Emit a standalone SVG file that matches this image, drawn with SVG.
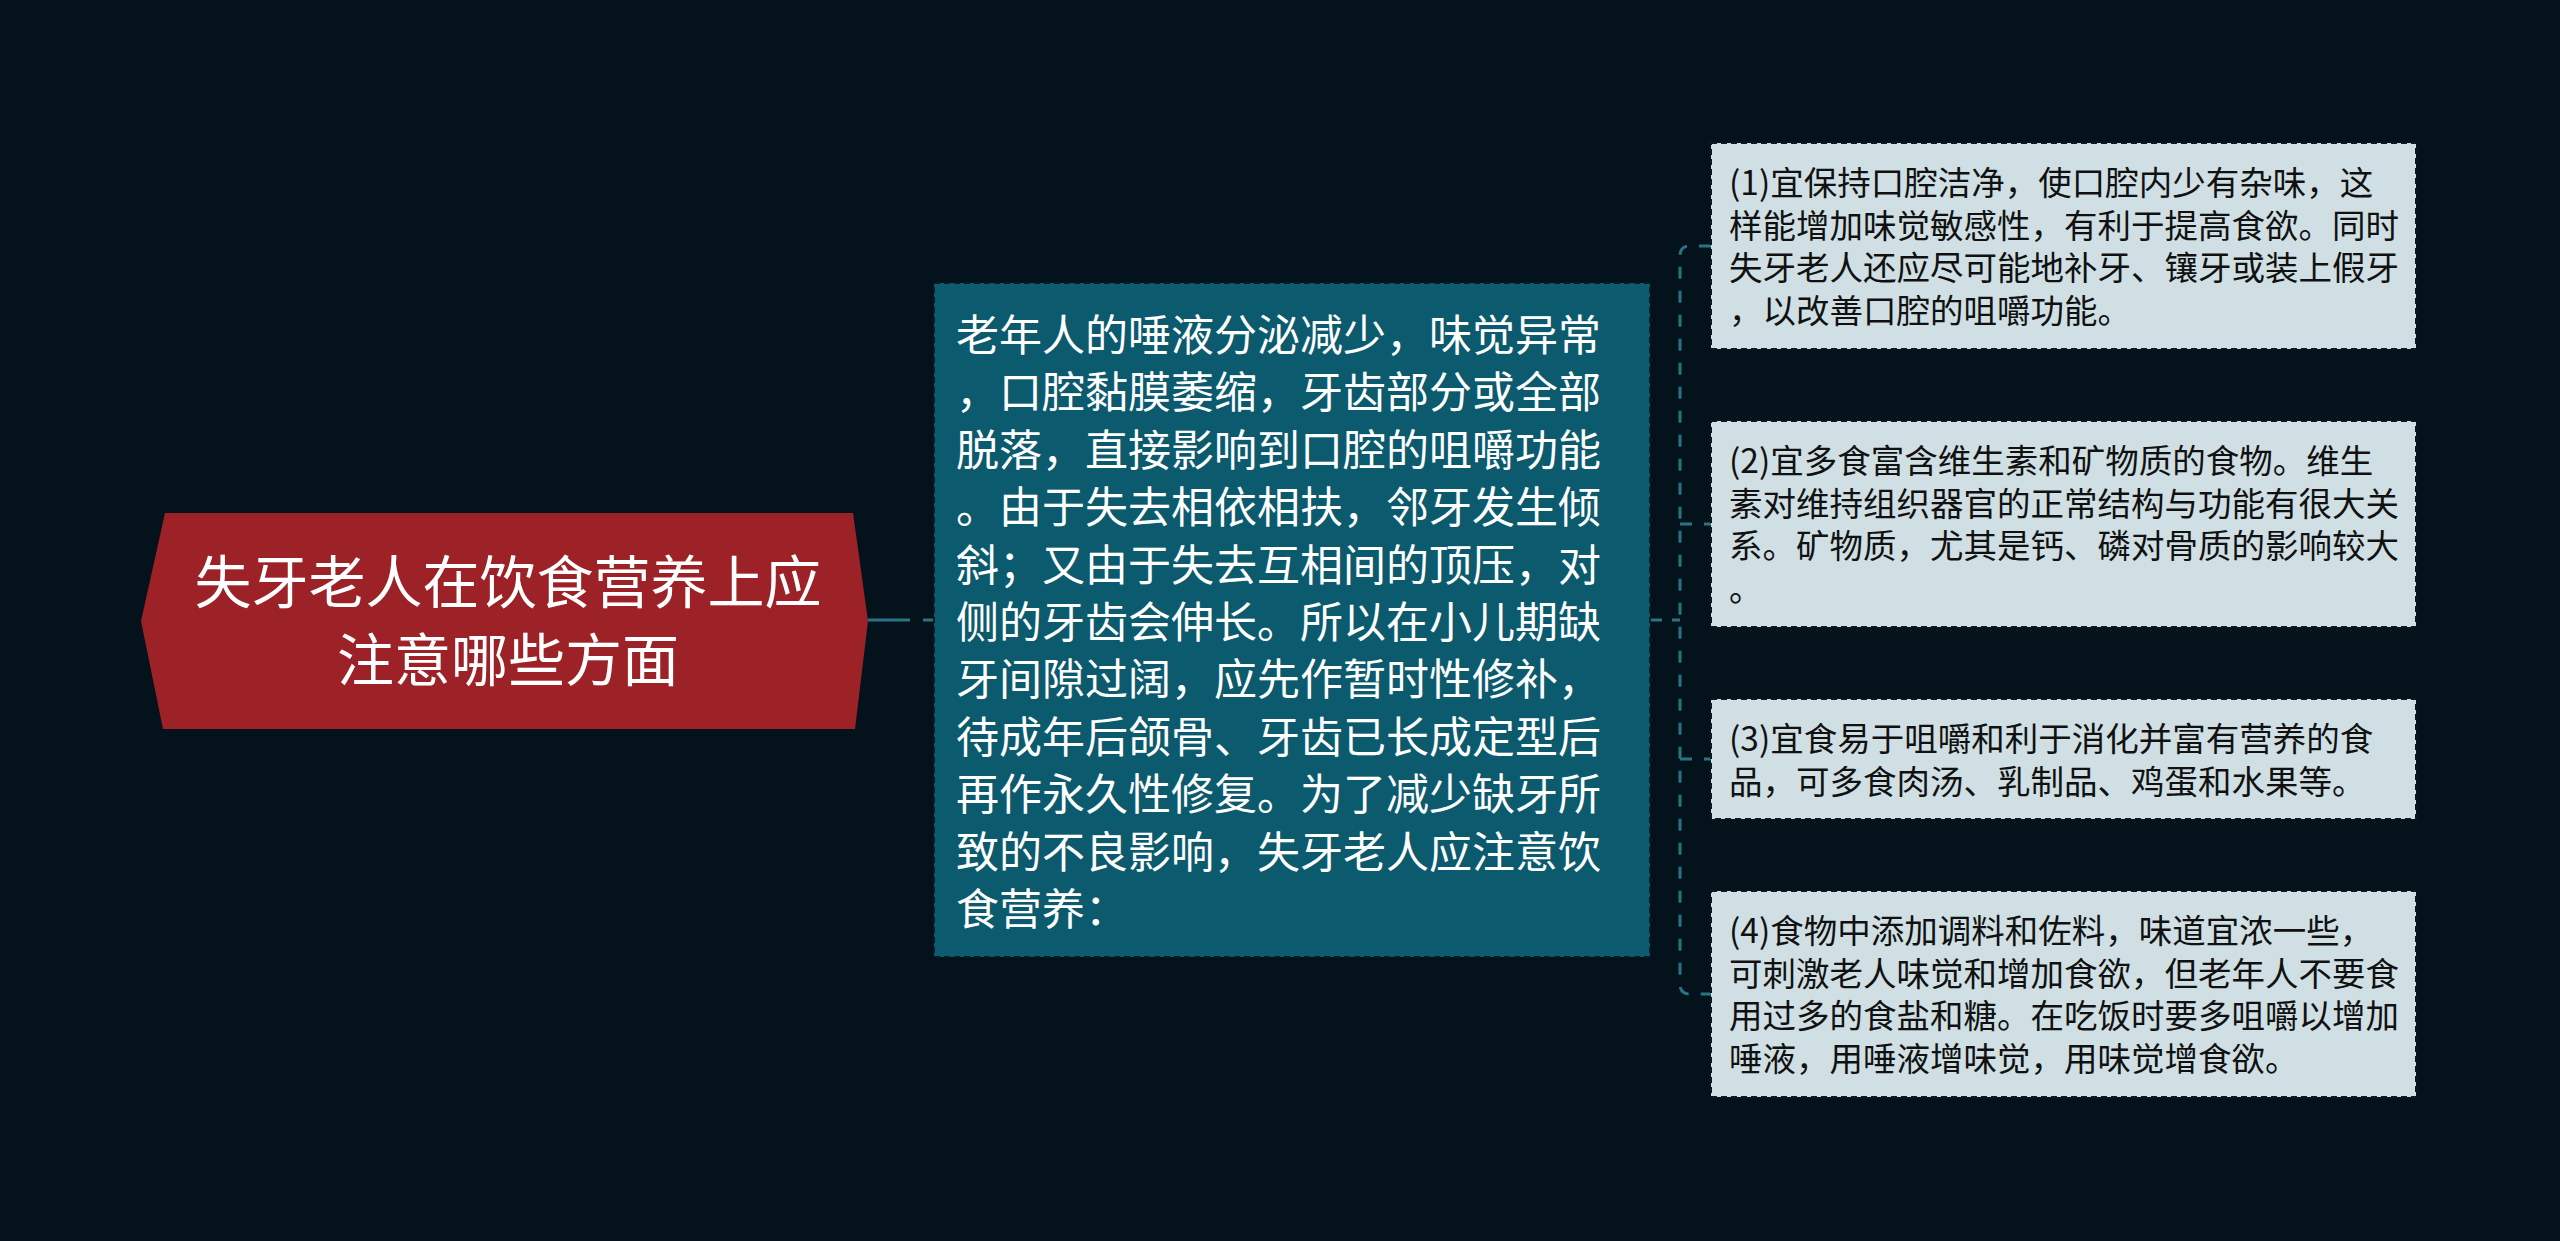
<svg xmlns="http://www.w3.org/2000/svg" width="2560" height="1241" viewBox="0 0 2560 1241">
<style>
.cjk{font-family:"Noto Sans CJK SC","Noto Sans",sans-serif}
.root-t{font-size:57px;fill:#ffffff;text-anchor:middle}
.main-t{font-size:43px;fill:#ffffff}
.leaf-t{font-size:33.5px;fill:#111111}
.conn{fill:none;stroke:#2a7385;stroke-width:3}
.box{stroke:#0a1a22;stroke-width:2;stroke-dasharray:6 4}
</style>
<rect width="2560" height="1241" fill="#04121b"/>
<g id="connectors">
<path class="conn" d="M868 620 H934" stroke-dasharray="42 13"/>
<path class="conn" d="M1650 620 H1680" stroke-dasharray="12 10"/>
<path class="conn" d="M1711 246 H1690 Q1680 246 1680 256 V984 Q1680 994 1690 994 H1711" stroke-dasharray="12 12"/>
<path class="conn" d="M1680 524 H1711" stroke-dasharray="12 12"/>
<path class="conn" d="M1680 759 H1711" stroke-dasharray="12 12"/>
</g>
<g id="root">
<polygon points="165,513 853,513 868,621 855,729 163,729 141,621" fill="#9d2228"/>
<text class="cjk root-t" x="508" y="603">失牙老人在饮食营养上应</text>
<text class="cjk root-t" x="508" y="681">注意哪些方面</text>
</g>
<g id="main">
<rect class="box" x="934" y="283" width="716" height="674" fill="#0c5a6d"/>
<text class="cjk main-t" x="956">
<tspan x="956" y="351">老年人的唾液分泌减少，味觉异常</tspan>
<tspan x="956" y="408.4">，口腔黏膜萎缩，牙齿部分或全部</tspan>
<tspan x="956" y="465.8">脱落，直接影响到口腔的咀嚼功能</tspan>
<tspan x="956" y="523.2">。由于失去相依相扶，邻牙发生倾</tspan>
<tspan x="956" y="580.6">斜；又由于失去互相间的顶压，对</tspan>
<tspan x="956" y="638">侧的牙齿会伸长。所以在小儿期缺</tspan>
<tspan x="956" y="695.4">牙间隙过阔，应先作暂时性修补，</tspan>
<tspan x="956" y="752.8">待成年后颌骨、牙齿已长成定型后</tspan>
<tspan x="956" y="810.2">再作永久性修复。为了减少缺牙所</tspan>
<tspan x="956" y="867.6">致的不良影响，失牙老人应注意饮</tspan>
<tspan x="956" y="925">食营养：</tspan>
</text>
</g>
<g id="leaf1">
<rect class="box" x="1711" y="143" width="705" height="206" fill="#cfdfe3"/>
<text class="cjk leaf-t">
<tspan x="1729" y="195">(1)宜保持口腔洁净，使口腔内少有杂味，这</tspan>
<tspan x="1729" y="237.5">样能增加味觉敏感性，有利于提高食欲。同时</tspan>
<tspan x="1729" y="280">失牙老人还应尽可能地补牙、镶牙或装上假牙</tspan>
<tspan x="1729" y="322.5">，以改善口腔的咀嚼功能。</tspan>
</text>
</g>
<g id="leaf2">
<rect class="box" x="1711" y="421" width="705" height="206" fill="#cfdfe3"/>
<text class="cjk leaf-t">
<tspan x="1729" y="473">(2)宜多食富含维生素和矿物质的食物。维生</tspan>
<tspan x="1729" y="515.5">素对维持组织器官的正常结构与功能有很大关</tspan>
<tspan x="1729" y="558">系。矿物质，尤其是钙、磷对骨质的影响较大</tspan>
<tspan x="1729" y="600.5">。</tspan>
</text>
</g>
<g id="leaf3">
<rect class="box" x="1711" y="699" width="705" height="120" fill="#cfdfe3"/>
<text class="cjk leaf-t">
<tspan x="1729" y="751">(3)宜食易于咀嚼和利于消化并富有营养的食</tspan>
<tspan x="1729" y="793.5">品，可多食肉汤、乳制品、鸡蛋和水果等。</tspan>
</text>
</g>
<g id="leaf4">
<rect class="box" x="1711" y="891" width="705" height="206" fill="#cfdfe3"/>
<text class="cjk leaf-t">
<tspan x="1729" y="943">(4)食物中添加调料和佐料，味道宜浓一些，</tspan>
<tspan x="1729" y="985.5">可刺激老人味觉和增加食欲，但老年人不要食</tspan>
<tspan x="1729" y="1028">用过多的食盐和糖。在吃饭时要多咀嚼以增加</tspan>
<tspan x="1729" y="1070.5">唾液，用唾液增味觉，用味觉增食欲。</tspan>
</text>
</g>
</svg>
